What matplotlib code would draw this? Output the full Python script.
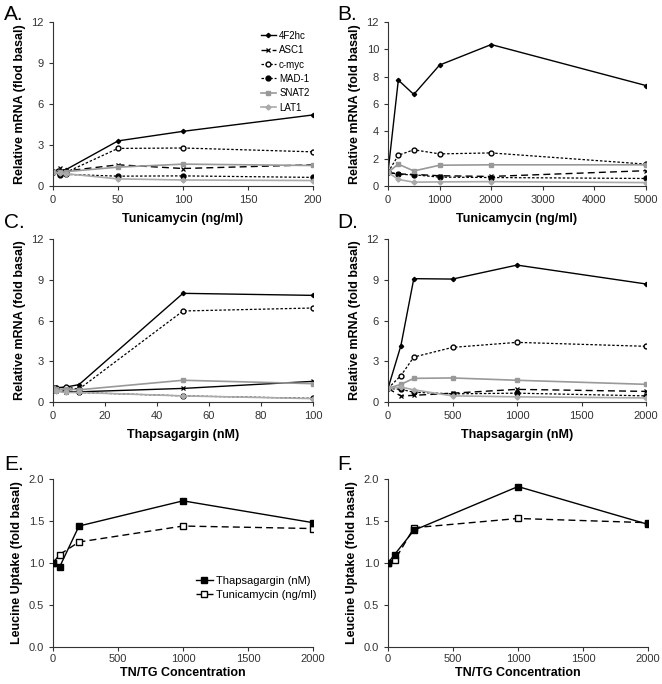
import matplotlib
matplotlib.use("Agg")
import matplotlib.pyplot as plt

plt.rcParams['font.family'] = ['Liberation Sans', 'DejaVu Sans']

genes = ['4F2hc', 'ASC1', 'c-myc', 'MAD-1', 'SNAT2', 'LAT1']

# panel A: tunicamycin, low doses
a_x = [0, 5, 10, 50, 100, 200]
a_vals = {
    '4F2hc': [1.0, 1.1, 1.2, 3.3, 4.0, 5.2],
    'ASC1':  [1.0, 1.3, 1.1, 1.55, 1.28, 1.55],
    'c-myc': [1.0, 0.9, 1.0, 2.75, 2.78, 2.5],
    'MAD-1': [1.0, 0.82, 0.85, 0.72, 0.74, 0.63],
    'SNAT2': [1.0, 1.0, 1.05, 1.38, 1.6, 1.5],
    'LAT1':  [1.0, 0.95, 0.9, 0.52, 0.44, 0.4],
}
# panel B: tunicamycin, high doses
b_x = [0, 200, 500, 1000, 2000, 5000]
b_vals = {
    '4F2hc': [1.0, 7.75, 6.7, 8.85, 10.35, 7.35],
    'ASC1':  [1.0, 0.88, 0.85, 0.75, 0.7, 1.12],
    'c-myc': [1.0, 2.25, 2.65, 2.35, 2.42, 1.6],
    'MAD-1': [1.0, 0.85, 0.82, 0.65, 0.62, 0.55],
    'SNAT2': [1.0, 1.6, 1.1, 1.52, 1.55, 1.55],
    'LAT1':  [1.0, 0.48, 0.28, 0.3, 0.32, 0.25],
}
# panel C: thapsigargin, low doses
c_x = [0, 1, 5, 10, 50, 100]
c_vals = {
    '4F2hc': [1.0, 1.05, 1.1, 1.28, 8.0, 7.85],
    'ASC1':  [0.85, 0.8, 0.75, 0.75, 1.0, 1.52],
    'c-myc': [1.0, 1.0, 1.1, 0.95, 6.7, 6.92],
    'MAD-1': [1.0, 1.0, 0.85, 0.7, 0.45, 0.27],
    'SNAT2': [1.0, 0.95, 0.95, 0.9, 1.6, 1.35],
    'LAT1':  [0.9, 0.8, 0.7, 0.7, 0.45, 0.25],
}
# panel D: thapsigargin, high doses
d_x = [0, 100, 200, 500, 1000, 2000]
d_vals = {
    '4F2hc': [1.0, 4.15, 9.08, 9.05, 10.08, 8.69],
    'ASC1':  [1.0, 0.44, 0.49, 0.65, 0.93, 0.78],
    'c-myc': [1.0, 1.94, 3.31, 4.02, 4.39, 4.1],
    'MAD-1': [1.0, 0.93, 0.72, 0.6, 0.65, 0.45],
    'SNAT2': [1.0, 1.3, 1.74, 1.77, 1.6, 1.3],
    'LAT1':  [1.0, 1.1, 0.9, 0.45, 0.38, 0.3],
}
# panels E, F: leucine uptake
ef_x = [0, 50, 200, 1000, 2000]
e_thap = [1.0, 0.95, 1.44, 1.74, 1.48]
e_tuni = [1.0, 1.10, 1.25, 1.44, 1.41]
f_thap = [1.0, 1.10, 1.39, 1.91, 1.46]
f_tuni = [1.0, 1.03, 1.42, 1.53, 1.48]

styles = {
    '4F2hc': dict(color='black', ls='-', marker='D', ms=2.2, mfc='black', lw=1.0),
    'ASC1':  dict(color='black', ls=(0, (5, 3)), marker='x', ms=3.5, mew=0.9, lw=1.0),
    'c-myc': dict(color='black', ls=(0, (2, 1.5)), marker='o', ms=3.5, mfc='white', lw=0.9),
    'MAD-1': dict(color='black', ls=(0, (2, 1.5)), marker='o', ms=3.5, mfc='black', lw=0.9),
    'SNAT2': dict(color='#999999', ls='-', marker='s', ms=3.2, mfc='#999999', lw=1.2),
    'LAT1':  dict(color='#aaaaaa', ls='-', marker='D', ms=2.6, mfc='#aaaaaa', lw=1.2),
}

fig = plt.figure(figsize=(6.62, 6.84), dpi=100)
W, H = 662, 684


def add_ax(left, right, top, bottom):
    return fig.add_axes([left / W, 1 - bottom / H, (right - left) / W, (bottom - top) / H])


def style_ax(ax):
    for s in ['top', 'right']:
        ax.spines[s].set_visible(False)
    for s in ['left', 'bottom']:
        ax.spines[s].set_color('#333333')
        ax.spines[s].set_linewidth(0.8)
    ax.tick_params(direction='out', length=3, width=0.8, colors='#333333',
                   labelsize=8, labelcolor='#333333')


def mrna_panel(ax, x, vals, xlim, xticks, xlabel, ylabel, yticks, override=None):
    for g in genes:
        st = dict(styles[g])
        if override and g in override:
            st.update(override[g])
        ax.plot(x, vals[g], label=g, **st)
    ax.set_xlim(*xlim)
    ax.set_xticks(xticks)
    ax.set_ylim(0, 12)
    ax.set_yticks(yticks)
    ax.set_xlabel(xlabel, fontsize=9, fontweight='bold', labelpad=6)
    ax.set_ylabel(ylabel, fontsize=9, fontweight='bold', labelpad=4)
    style_ax(ax)


axA = add_ax(53, 313, 22, 186)
mrna_panel(axA, a_x, a_vals, (0, 200), [0, 50, 100, 150, 200],
           'Tunicamycin (ng/ml)', 'Relative mRNA (flod basal)', [0, 3, 6, 9, 12])
axA.legend(loc='upper right', bbox_to_anchor=(1.02, 1.0), frameon=False, fontsize=7,
           handlelength=1.6, handletextpad=0.3, labelspacing=0.45)

axB = add_ax(388, 646, 22, 186)
mrna_panel(axB, b_x, b_vals, (0, 5000), [0, 1000, 2000, 3000, 4000, 5000],
           'Tunicamycin (ng/ml)', 'Relative mRNA (fold basal)', [0, 2, 4, 6, 8, 10, 12])

axC = add_ax(53, 313, 239, 402)
mrna_panel(axC, c_x, c_vals, (0, 100), [0, 20, 40, 60, 80, 100],
           'Thapsagargin (nM)', 'Relative mRNA (fold basal)', [0, 3, 6, 9, 12],
           override={'ASC1': dict(ls='-')})

axD = add_ax(388, 646, 239, 402)
mrna_panel(axD, d_x, d_vals, (0, 2000), [0, 500, 1000, 1500, 2000],
           'Thapsagargin (nM)', 'Relative mRNA (fold basal)', [0, 3, 6, 9, 12])


def uptake_panel(ax, thap, tuni, legend=False):
    ax.plot(ef_x, tuni, color='black', ls=(0, (5, 3)), lw=1.0, marker='s', ms=5,
            mfc='white', mec='black', label='Tunicamycin (ng/ml)', zorder=2)
    ax.plot(ef_x, thap, color='black', ls='-', lw=1.0, marker='s', ms=5,
            mfc='black', label='Thapsagargin (nM)', zorder=3)
    ax.set_xlim(0, 2000)
    ax.set_xticks([0, 500, 1000, 1500, 2000])
    ax.set_ylim(0, 2.0)
    ax.set_yticks([0.0, 0.5, 1.0, 1.5, 2.0])
    ax.set_yticklabels(['0.0', '0.5', '1.0', '1.5', '2.0'])
    ax.set_xlabel('TN/TG Concentration', fontsize=9, fontweight='bold', labelpad=2)
    ax.set_ylabel('Leucine Uptake (fold basal)', fontsize=9, fontweight='bold', labelpad=4)
    style_ax(ax)
    ax.tick_params(axis='x', pad=2)
    if legend:
        h, l = ax.get_legend_handles_labels()
        ax.legend(h[::-1], l[::-1], loc='lower right', bbox_to_anchor=(1.05, 0.22),
                  frameon=False, fontsize=8, handlelength=1.6, handletextpad=0.2,
                  labelspacing=0.4)


axE = add_ax(53, 313, 479, 647)
uptake_panel(axE, e_thap, e_tuni, legend=True)
axF = add_ax(388, 648, 479, 647)
uptake_panel(axF, f_thap, f_tuni)

for lab, (px, py) in zip(['A.', 'B.', 'C.', 'D.', 'E.', 'F.'],
                         [(4, 14), (337, 14), (4, 222), (337, 222), (4, 465), (337, 465)]):
    fig.text(px / W, 1 - py / H, lab, fontsize=15, va='center', ha='left')

fig.savefig('out.png', dpi=100)
